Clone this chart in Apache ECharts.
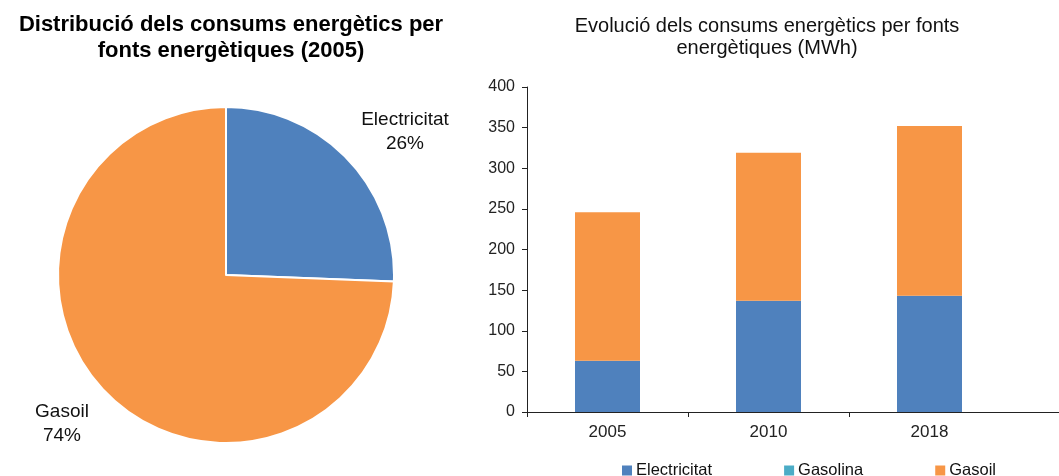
<!DOCTYPE html>
<html><head><meta charset="utf-8">
<script src="https://cdn.jsdelivr.net/npm/echarts@6/dist/echarts.min.js"></script>
<style>html,body{margin:0;padding:0;background:#fff}#c{width:1059px;height:476px}</style>
</head><body><div id="c"></div>
<script>
const years = ['2005', '2010', '2018'];
const seriesNames = ['Electricitat', 'Gasolina', 'Gasoil'];
const electricitat = [63, 137, 143];
const gasolina = [0, 0, 0];
const gasoil = [183, 182, 209];
const yTicks = [0, 50, 100, 150, 200, 250, 300, 350, 400];
const colors = ['#4F81BD', '#4BACC6', '#F79646'];

const pieSource = [electricitat[0], gasolina[0], gasoil[0]];
const pieData = seriesNames.map((n, i) => ({ name: n, value: pieSource[i], itemStyle: { color: colors[i] } }))
  .filter(d => d.value > 0);

// plot layout (pixels)
const plotLeft = 527, plotRight = 1010, W = 1059;
const extendMax = (W - plotLeft) / (plotRight - plotLeft) * years.length;

const font = 'Liberation Sans, Arial, sans-serif';
const chart = echarts.init(document.getElementById('c'));
chart.setOption({
  animation: false,
  textStyle: { fontFamily: font },
  title: [
    { text: 'Distribució dels consums energètics per\nfonts energètiques (2005)', left: 226, top: 7, textAlign: 'center',
      textStyle: { fontSize: 22, fontWeight: 'bold', color: '#000', lineHeight: 26, fontFamily: font } },
    { text: 'Evolució dels consums energètics per fonts\nenergètiques (MWh)', left: 762, top: 10, textAlign: 'center',
      textStyle: { fontSize: 20, fontWeight: 'normal', color: '#111', lineHeight: 22, fontFamily: font } }
  ],
  legend: {
    data: seriesNames, left: 617, top: 457, itemWidth: 10, itemHeight: 10, itemGap: 72, icon: 'rect',
    textStyle: { fontSize: 16.5, color: '#111', fontFamily: font, padding: [0, 0, 0, -1] }
  },
  grid: [
    { left: plotLeft, right: W - plotRight, top: 87, bottom: 64 },
    { left: plotLeft, right: 0, top: 87, bottom: 64 }
  ],
  xAxis: [
    { type: 'category', gridIndex: 0, data: years,
      axisLine: { show: false },
      axisTick: { show: false },
      axisLabel: { fontSize: 17, color: '#222', margin: 12 } },
    { type: 'value', gridIndex: 1, min: 0, max: extendMax,
      axisLine: { show: true, lineStyle: { color: '#222', width: 1 } },
      axisTick: { show: true, length: 5, customValues: [0, 1, 2], lineStyle: { color: '#222' } },
      axisLabel: { show: false }, splitLine: { show: false } }
  ],
  yAxis: [
    { type: 'value', gridIndex: 0, min: yTicks[0], max: yTicks[yTicks.length - 1], interval: 50,
      axisLine: { show: true, lineStyle: { color: '#222' } },
      axisTick: { show: true, length: 5, lineStyle: { color: '#222' } },
      splitLine: { show: false },
      axisLabel: { fontSize: 16, color: '#222', margin: 12 } },
    { type: 'value', gridIndex: 1, show: false, min: 0, max: 400 }
  ],
  series: [
    { type: 'pie', center: [226, 275], radius: 168, startAngle: 90, clockwise: true,
      data: pieData,
      itemStyle: { borderColor: '#fff', borderWidth: 2 },
      label: { show: true, position: 'outside', overflow: 'none',
               formatter: p => p.name + '\n' + Math.round(p.percent) + '%',
               fontSize: 19, color: '#111', lineHeight: 24, fontFamily: font, align: 'center' },
      labelLine: { show: false },
      labelLayout: function (p) {
        if (p.dataIndex === 0) return { x: 405, y: 132, align: 'center', verticalAlign: 'middle' };
        return { x: 62, y: 424, align: 'center', verticalAlign: 'middle' };
      },
      emphasis: { disabled: true }
    },
    { name: seriesNames[0], type: 'bar', stack: 't', data: electricitat, barWidth: 65, itemStyle: { color: colors[0] } },
    { name: seriesNames[1], type: 'bar', stack: 't', data: gasolina, barWidth: 65, itemStyle: { color: colors[1] } },
    { name: seriesNames[2], type: 'bar', stack: 't', data: gasoil, barWidth: 65, itemStyle: { color: colors[2] } }
  ]
});
</script></body></html>
